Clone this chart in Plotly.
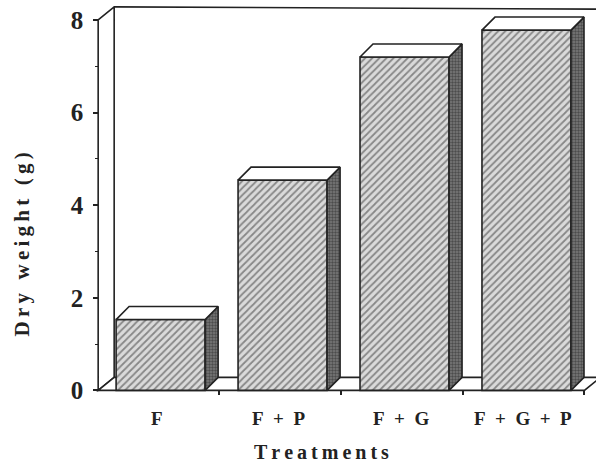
import plotly.graph_objects as go

# ---- data ----
categories = ["F", "F + P", "F + G", "F + G + P"]
dry_weight = [1.53, 4.54, 7.20, 7.78]
y_ticks = [0, 2, 4, 6, 8]
y_title = "Dry weight (g)"
x_title = "Treatments"

# ---- geometry (layout helpers) ----
W, H = 596, 467
KX, KY = 122.0, 46.25          # px per data unit
XR = [-0.62, 3.57]
YR = [-0.25, 8.3]
PW = (XR[1] - XR[0]) * KX
PH = (YR[1] - YR[0]) * KY
ML = W - PW
T = 6.1
B = H - T - PH

XA = -0.512                     # position of the front y axis line
XE = 3.475                      # front right end of the floor
DX, DY = 16 / KX, 13 / KY       # wall depth
BDX, BDY = 13 / KX, 13 / KY     # bar depth
BW = 0.73
YMAX = 8

positions = list(range(len(categories)))

def px_x(p):
    return (p - ML) / PW

def px_y(p):
    return (T + PH - p) / PH

ink = "#222222"
font_family = "Liberation Serif"

def spaced(s, sep="\u2009"):
    return sep.join(list(s.replace(" ", "\u00a0")))

fig = go.Figure()

# front faces of the bars
fig.add_trace(go.Bar(
    x=positions, y=dry_weight, width=BW,
    marker=dict(
        color="#d6d6d6",
        pattern=dict(shape="/", fgcolor="#333333", bgcolor="#dadada", size=5, solidity=0.35),
        line=dict(color=ink, width=1.6),
    ),
    hoverinfo="skip", showlegend=False,
))

# side faces
sx, sy = [], []
for p, v in zip(positions, dry_weight):
    x1 = p + BW / 2
    sx += [x1, x1 + BDX, x1 + BDX, x1, x1, None]
    sy += [0, BDY, v + BDY, v, 0, None]
fig.add_trace(go.Scatter(
    x=sx, y=sy, mode="lines", fill="toself",
    fillcolor="#666666",
    fillpattern=dict(shape=".", fgcolor="#1e1e1e", bgcolor="#7a7a7a", size=3, solidity=0.5),
    line=dict(color=ink, width=1.6),
    hoverinfo="skip", showlegend=False,
))

# top faces
tx, ty = [], []
for p, v in zip(positions, dry_weight):
    x0, x1 = p - BW / 2, p + BW / 2
    tx += [x0, x0 + BDX, x1 + BDX, x1, x0, None]
    ty += [v, v + BDY, v + BDY, v, v, None]
fig.add_trace(go.Scatter(
    x=tx, y=ty, mode="lines", fill="toself", fillcolor="white",
    line=dict(color=ink, width=1.6),
    hoverinfo="skip", showlegend=False,
))

# walls and floor (below traces)
shapes = [
    dict(type="path", xref="x", yref="y", layer="below",
         path=f"M {XA},0 L {XA},{YMAX} L {XA+DX},{YMAX+DY} L {XA+DX},{DY} Z",
         fillcolor="white", line=dict(color=ink, width=1.6)),
    dict(type="line", xref="x", yref="y", layer="below",
         x0=XA + DX, y0=YMAX + DY, x1=XR[1] + 0.1, y1=YMAX + DY - 0.05,
         line=dict(color=ink, width=1.6)),
    dict(type="path", xref="x", yref="y", layer="below",
         path=f"M {XA},0 L {XE},0 L {XE+DX},{DY} L {XA+DX},{DY} Z",
         fillcolor="white", line=dict(color=ink, width=1.6)),
]

annotations = []
for p, c in zip(positions, categories):
    annotations.append(dict(
        x=p - 0.03, xref="x", y=px_y(418), yref="paper",
        text=c.replace(" ", "\u00a0\u00a0"), showarrow=False,
        xanchor="center", yanchor="middle",
        font=dict(family=font_family, size=19, color=ink, weight="bold"),
    ))
annotations.append(dict(
    x=px_x(321), xref="paper", y=px_y(451), yref="paper",
    text=spaced(x_title), showarrow=False, xanchor="center", yanchor="middle",
    font=dict(family=font_family, size=20, color=ink, weight="bold"),
))
annotations.append(dict(
    x=px_x(22), xref="paper", y=px_y(244), yref="paper",
    text=spaced(y_title), textangle=-90, showarrow=False,
    xanchor="center", yanchor="middle",
    font=dict(family=font_family, size=21, color=ink, weight="bold"),
))

fig.update_layout(
    width=W, height=H,
    margin=dict(l=ML, r=0, t=T, b=B, pad=0),
    paper_bgcolor="white", plot_bgcolor="white",
    shapes=shapes, annotations=annotations,
    showlegend=False,
    xaxis=dict(
        range=XR, showgrid=False, zeroline=False, showline=False,
        tickmode="array", tickvals=[p + 0.48 for p in positions[:-1]] + [XE],
        ticktext=["" for _ in positions],
        ticks="outside", ticklen=4, tickwidth=1.5, tickcolor=ink,
        anchor="free", position=px_y(T + (YR[1] - 0) * KY),
        automargin=False, fixedrange=True,
    ),
    yaxis=dict(
        range=YR, showgrid=False, zeroline=False, showline=False,
        tickmode="array", tickvals=y_ticks, ticktext=[str(t) for t in y_ticks],
        ticks="outside", ticklen=5, tickwidth=1.5, tickcolor=ink,
        minor=dict(tickmode="linear", tick0=1, dtick=2, ticks="outside", ticklen=3, tickwidth=1.2, tickcolor=ink),
        tickfont=dict(family=font_family, size=25, color=ink, weight="bold"),
        ticklabelstandoff=5,
        anchor="free", position=px_x(XA * KX - XR[0] * KX + ML),
        automargin=False, fixedrange=True,
    ),
)

fig.write_html("out.html")
